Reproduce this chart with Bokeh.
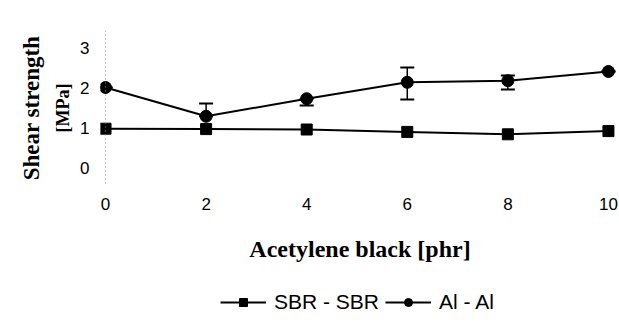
from bokeh.plotting import figure
from bokeh.layouts import column
from bokeh.models import Range1d, Title, Legend, LegendItem, Whisker, ColumnDataSource, FixedTicker, TeeHead, Span
from bokeh.embed import file_html
from bokeh.resources import INLINE

x = [0, 2, 4, 6, 8, 10]
sbr = [0.97, 0.96, 0.95, 0.89, 0.83, 0.91]
al = [2.0, 1.28, 1.72, 2.13, 2.17, 2.4]
al_lo = [2.0, 1.28, 1.55, 1.7, 1.95, 2.4]
al_hi = [2.0, 1.6, 1.72, 2.5, 2.3, 2.4]
sbr_name = "SBR - SBR"
al_name = "Al - Al"
x_ticks = [0, 2, 4, 6, 8, 10]
y_ticks = [0, 1, 2, 3]

p = figure(width=619, height=280, output_backend="svg", toolbar_location=None,
           x_range=Range1d(-0.1, 10.22), y_range=Range1d(-0.45, 3.425),
           frame_width=519, frame_height=155,
           min_border_left=100, min_border_right=0, min_border_top=30, min_border_bottom=95)
p.outline_line_color = None
p.background_fill_color = "white"
p.border_fill_color = "white"
p.xgrid.visible = False
p.ygrid.visible = False

for ax in (p.xaxis[0], p.yaxis[0]):
    ax.axis_line_color = None
    ax.major_tick_line_color = None
    ax.minor_tick_line_color = None
    ax.major_label_text_font = "Liberation Sans"
    ax.major_label_text_font_size = "17px"
    ax.major_label_text_color = "black"
p.xaxis.ticker = FixedTicker(ticks=x_ticks)
p.yaxis.ticker = FixedTicker(ticks=y_ticks)
p.xaxis.major_label_standoff = 6
p.yaxis.major_label_standoff = 5

p.xaxis.axis_label = "Acetylene black [phr]"
p.xaxis.axis_label_text_font = "Liberation Serif"
p.xaxis.axis_label_text_font_style = "bold"
p.xaxis.axis_label_text_font_size = "24px"
p.xaxis.axis_label_text_color = "black"
p.xaxis.axis_label_standoff = 23

p.add_layout(Title(text="[MPa]", align="center", text_font="Liberation Serif", text_color="black",
                   text_font_style="bold", text_font_size="18px", standoff=10), "left")
p.add_layout(Title(text="Shear strength", align="center", text_font="Liberation Serif", text_color="black",
                   text_font_style="bold", text_font_size="23px", standoff=3), "left")

# faint dotted guide at x = 0 (as in the scanned original)
p.add_layout(Span(location=0, dimension="height", line_color="#888888", line_dash="1 3", line_width=1))

src = ColumnDataSource(dict(x=x, lo=al_lo, hi=al_hi))
p.add_layout(Whisker(source=src, base="x", lower="lo", upper="hi", line_color="black", line_width=1.5,
                     upper_head=TeeHead(size=14, line_color="black", line_width=2),
                     lower_head=TeeHead(size=14, line_color="black", line_width=2)))

p.line(x, sbr, line_color="black", line_width=2)
p.scatter(x, sbr, marker="square", size=11, fill_color="black", line_color="black")
p.line(x, al, line_color="black", line_width=2)
p.scatter(x, al, marker="circle", size=12, fill_color="black", line_color="black")

# legend strip below the chart (its glyphs lie outside its visible range; only the legend shows)
lg = figure(width=619, height=46, output_backend="svg", toolbar_location=None,
            x_range=Range1d(100, 101), y_range=Range1d(100, 101),
            min_border=0)
lg.axis.visible = False
lg.grid.visible = False
lg.outline_line_color = None
r1 = lg.line(x, sbr, line_color="black", line_width=2)
s1 = lg.scatter(x, sbr, marker="square", size=9, fill_color="black", line_color="black")
r2 = lg.line(x, al, line_color="black", line_width=2)
s2 = lg.scatter(x, al, marker="circle", size=9, fill_color="black", line_color="black")
legend = Legend(items=[LegendItem(label=sbr_name, renderers=[r1, s1]),
                       LegendItem(label=al_name, renderers=[r2, s2])],
                orientation="horizontal", location=(120, 12), border_line_color=None,
                background_fill_alpha=0, label_text_font="Liberation Sans", label_text_font_size="21px",
                label_text_color="black",
                glyph_width=46, glyph_height=20, spacing=6, padding=0, margin=0, label_standoff=8)
lg.add_layout(legend, "center")

layout = column(p, lg, spacing=0)
open("out.html", "w").write(file_html(layout, INLINE))
